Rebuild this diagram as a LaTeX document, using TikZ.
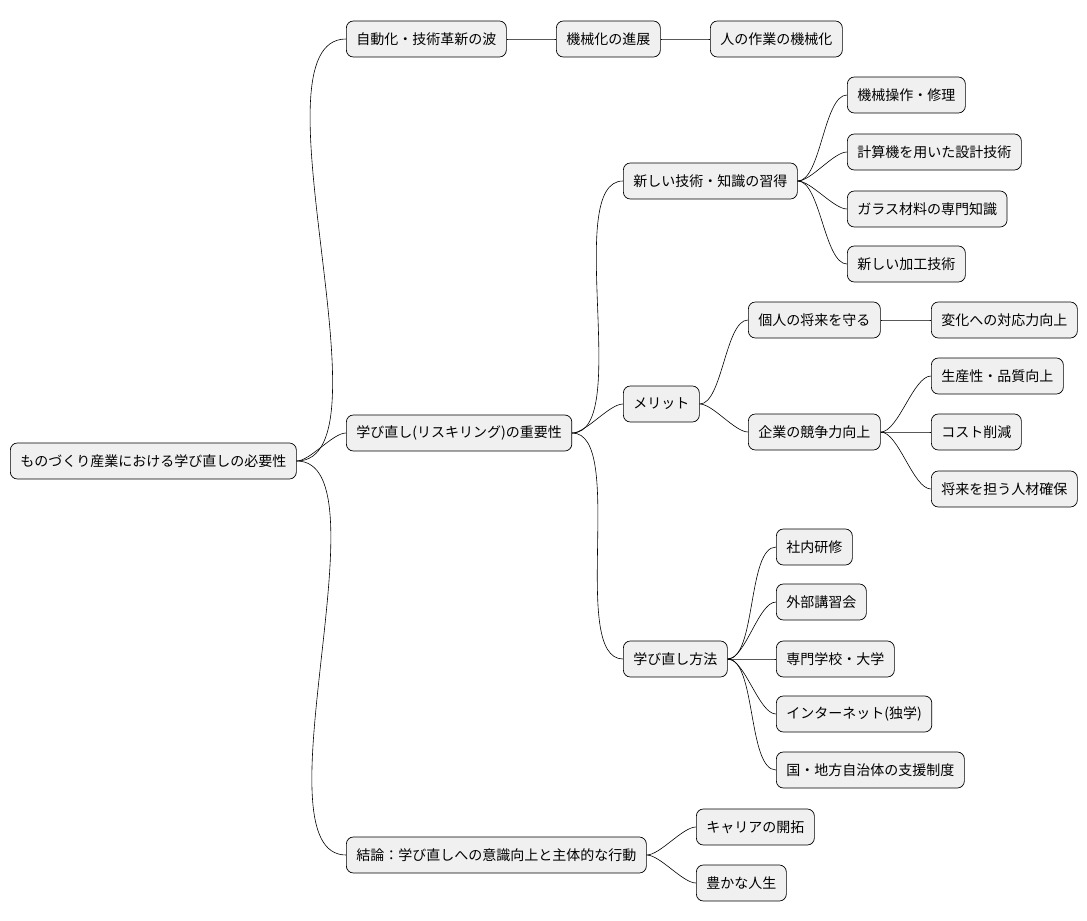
\documentclass[tikz,border=0pt]{standalone}
\usepackage{fontspec}
\setmainfont{Noto Sans CJK JP}
\usetikzlibrary{positioning}
\tikzset{>=latex}

\begin{document}
\begin{tikzpicture}[x=1pt,y=-1pt,
	box/.style={draw=black, fill=gray!12, rounded corners=7pt, line width=0.7pt, inner xsep=10pt, minimum height=36pt, anchor=west, font=\fontsize{14}{16}\selectfont},
	link/.style={draw=black, line width=0.6pt}]
		\useasboundingbox (0,0) rectangle (1087,921);
		\node[box] (root) at (10,461) {ものづくり産業における学び直しの必要性};
		\node[box] (auto) at (346,39) {自動化・技術革新の波};
		\node[box] (mech) at (556,39) {機械化の進展};
		\node[box] (work) at (710,39) {人の作業の機械化};
		\node[box] (relearn) at (346,433) {学び直し(リスキリング)の重要性};
		\node[box] (skill) at (623,181) {新しい技術・知識の習得};
		\node[box] (s1) at (847,95) {機械操作・修理};
		\node[box] (s2) at (847,152) {計算機を用いた設計技術};
		\node[box] (s3) at (847,209) {ガラス材料の専門知識};
		\node[box] (s4) at (847,264) {新しい加工技術};
		\node[box] (merit) at (623,404) {メリット};
		\node[box] (self) at (748,320) {個人の将来を守る};
		\node[box] (adapt) at (931,320) {変化への対応力向上};
		\node[box] (firm) at (748,432) {企業の競争力向上};
		\node[box] (f1) at (931,376) {生産性・品質向上};
		\node[box] (f2) at (931,432) {コスト削減};
		\node[box] (f3) at (931,489) {将来を担う人材確保};
		\node[box] (way) at (623,659) {学び直し方法};
		\node[box] (w1) at (776,547) {社内研修};
		\node[box] (w2) at (776,602) {外部講習会};
		\node[box] (w3) at (776,659) {専門学校・大学};
		\node[box] (w4) at (776,714) {インターネット(独学)};
		\node[box] (w5) at (776,770) {国・地方自治体の支援制度};
		\node[box] (concl) at (346,855) {結論：学び直しへの意識向上と主体的な行動};
		\node[box] (c1) at (696,827) {キャリアの開拓};
		\node[box] (c2) at (696,883) {豊かな人生};
		\foreach \a/\b in {root/auto,root/relearn,root/concl,auto/mech,mech/work,
			relearn/skill,relearn/merit,relearn/way,skill/s1,skill/s2,skill/s3,skill/s4,
			merit/self,merit/firm,self/adapt,firm/f1,firm/f2,firm/f3,
			way/w1,way/w2,way/w3,way/w4,way/w5,concl/c1,concl/c2}
			\path[link] (\a.east) to[out=0,in=180,looseness=0.6] (\b.west);
\end{tikzpicture}
\end{document}
